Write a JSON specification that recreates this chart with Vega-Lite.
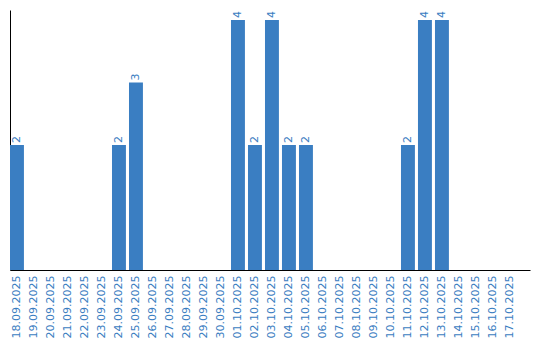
{
  "$schema": "https://vega.github.io/schema/vega-lite/v6.json",
  "width": 520,
  "height": 260,
  "autosize": "none",
  "padding": {"left": 10, "top": 10, "right": 10, "bottom": 70},
  "background": "white",
  "config": {"view": {"stroke": null}, "font": "DejaVu Sans"},
  "data": {"values": [
    {"date": "18.09.2025", "v": 2},
    {"date": "19.09.2025", "v": 0},
    {"date": "20.09.2025", "v": 0},
    {"date": "21.09.2025", "v": 0},
    {"date": "22.09.2025", "v": 0},
    {"date": "23.09.2025", "v": 0},
    {"date": "24.09.2025", "v": 2},
    {"date": "25.09.2025", "v": 3},
    {"date": "26.09.2025", "v": 0},
    {"date": "27.09.2025", "v": 0},
    {"date": "28.09.2025", "v": 0},
    {"date": "29.09.2025", "v": 0},
    {"date": "30.09.2025", "v": 0},
    {"date": "01.10.2025", "v": 4},
    {"date": "02.10.2025", "v": 2},
    {"date": "03.10.2025", "v": 4},
    {"date": "04.10.2025", "v": 2},
    {"date": "05.10.2025", "v": 2},
    {"date": "06.10.2025", "v": 0},
    {"date": "07.10.2025", "v": 0},
    {"date": "08.10.2025", "v": 0},
    {"date": "09.10.2025", "v": 0},
    {"date": "10.10.2025", "v": 0},
    {"date": "11.10.2025", "v": 2},
    {"date": "12.10.2025", "v": 4},
    {"date": "13.10.2025", "v": 4},
    {"date": "14.10.2025", "v": 0},
    {"date": "15.10.2025", "v": 0},
    {"date": "16.10.2025", "v": 0},
    {"date": "17.10.2025", "v": 0}
  ]},
  "encoding": {
    "x": {"field": "date", "type": "ordinal", "sort": null,
      "scale": {"paddingInner": 0.18, "paddingOuter": 0.385, "align": 0},
      "axis": {"title": null, "labelAngle": 270, "labelColor": "#3a7dc1", "labelFontSize": 11,
        "ticks": false, "domainColor": "#000000", "domainWidth": 1, "labelPadding": 5, "labelFont": "DejaVu Sans"}},
    "y": {"field": "v", "type": "quantitative",
      "scale": {"domain": [0, 4.16], "nice": false, "zero": true},
      "axis": {"title": null, "labels": false, "ticks": false, "grid": false, "domainColor": "#000000", "domainWidth": 1}}
  },
  "layer": [
    {"mark": {"type": "bar", "color": "#3a7ec2"}},
    {"transform": [{"filter": "datum.v > 0"}],
     "mark": {"type": "text", "angle": 270, "align": "left", "baseline": "middle", "dx": 2, "color": "#3a7dc1", "fontSize": 11},
     "encoding": {"text": {"field": "v", "type": "quantitative"}}}
  ]
}
